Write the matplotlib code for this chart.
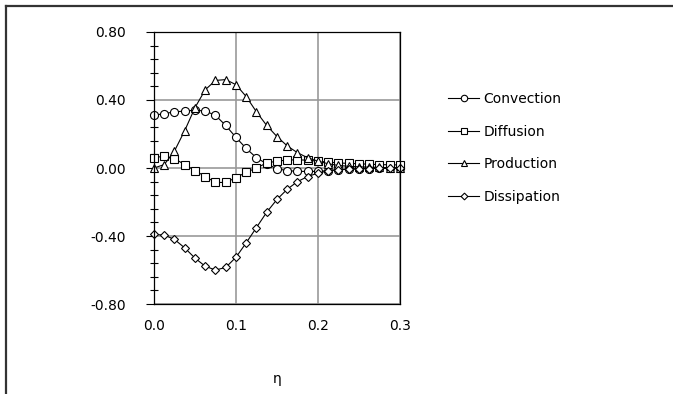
import matplotlib
matplotlib.use("Agg")
import matplotlib.pyplot as plt
from matplotlib.lines import Line2D
from matplotlib.ticker import MultipleLocator, FixedLocator

# eta positions, one point every 0.0125
eta = [i * 0.0125 for i in range(25)]

convection = [0.31, 0.32, 0.33, 0.335, 0.34, 0.335, 0.31, 0.25, 0.18, 0.115,
              0.06, 0.025, -0.005, -0.015, -0.02, -0.02, -0.02, -0.015, -0.01,
              -0.008, -0.005, -0.003, -0.002, -0.001, 0.0]
diffusion = [0.06, 0.07, 0.055, 0.02, -0.015, -0.05, -0.085, -0.085, -0.057,
             -0.025, 0.0, 0.03, 0.04, 0.047, 0.048, 0.046, 0.04, 0.035, 0.03,
             0.027, 0.025, 0.022, 0.02, 0.019, 0.018]
production = [0.0, 0.02, 0.10, 0.22, 0.355, 0.46, 0.515, 0.52, 0.49, 0.42,
              0.33, 0.25, 0.185, 0.13, 0.09, 0.06, 0.04, 0.025, 0.015, 0.01,
              0.007, 0.005, 0.003, 0.002, 0.001]
dissipation = [-0.39, -0.395, -0.42, -0.47, -0.53, -0.578, -0.60, -0.585,
               -0.525, -0.44, -0.35, -0.26, -0.185, -0.125, -0.08, -0.05,
               -0.03, -0.017, -0.01, -0.006, -0.004, -0.003, -0.002, -0.001, 0.0]

labels = ["Convection", "Diffusion", "Production", "Dissipation"]
y_ticks = [0.8, 0.4, 0.0, -0.4, -0.8]
y_ticklabels = ["0.80", "0.40", "0.00", "-0.40", "-0.80"]
x_ticks = [0.0, 0.1, 0.2, 0.3]
x_ticklabels = ["0.0", "0.1", "0.2", "0.3"]

plt.rcParams['font.family'] = ['DejaVu Sans']
plt.rcParams['font.size'] = 10

fig = plt.figure(figsize=(6.73, 3.94), dpi=100)
ax = fig.add_axes([0.2288, 0.2284, 0.3655, 0.6904])

# only the top and left edges of the outer frame are visible
fig.add_artist(Line2D([0.0082, 0.0082], [0, 0.986], color="#333333", lw=1.6,
                      transform=fig.transFigure))
fig.add_artist(Line2D([0.0082, 1.0], [0.986, 0.986], color="#333333", lw=1.6,
                      transform=fig.transFigure))

series = [convection, diffusion, production, dissipation]
markers = ["o", "s", "^", "D"]
sizes = [5.8, 5.5, 6.0, 4.3]
for vals, m, ms, lab in zip(series, markers, sizes, labels):
  ax.plot(eta, vals, color="black", lw=0.8, marker=m, ms=ms,
          mfc="white", mec="black", mew=0.8, label=lab, clip_on=False)

ax.set_xlim(0, 0.3)
ax.set_ylim(-0.8, 0.8)
ax.xaxis.set_major_locator(FixedLocator(x_ticks))
ax.set_xticklabels(x_ticklabels)
ax.yaxis.set_major_locator(FixedLocator(y_ticks))
ax.set_yticklabels(y_ticklabels)
ax.yaxis.set_minor_locator(MultipleLocator(0.08))
ax.tick_params(axis="x", length=0, pad=11)
ax.tick_params(axis="y", which="major", direction="out", length=6, width=0.8, pad=14)
ax.tick_params(axis="y", which="minor", direction="inout", length=6, width=0.8)
ax.grid(True, color="#999999", lw=1.2)
ax.set_axisbelow(True)
for s in ax.spines.values():
  s.set_linewidth(0.9)

ax.set_xlabel("η", labelpad=28)

ax.legend(loc="upper left", bbox_to_anchor=(0.665, 0.767), bbox_transform=fig.transFigure,
          frameon=False, handlelength=2.3, handletextpad=0.3, labelspacing=1.35,
          markerscale=0.8, borderaxespad=0, borderpad=0)

fig.savefig("out.png", dpi=100)
